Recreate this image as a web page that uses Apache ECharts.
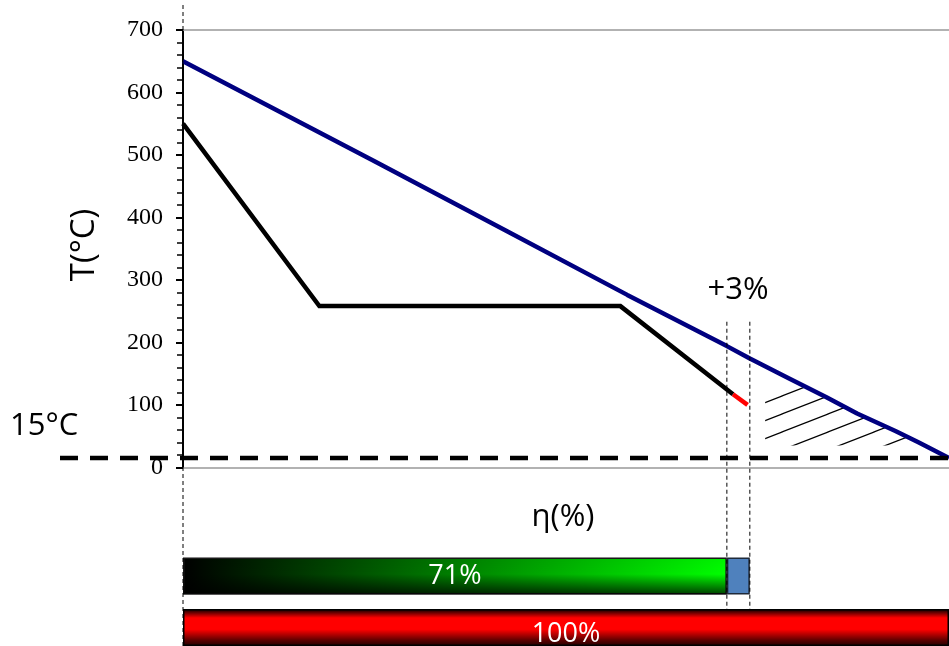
<!DOCTYPE html>
<html>
<head>
<meta charset="utf-8">
<script src="https://cdn.jsdelivr.net/npm/echarts@6/dist/echarts.min.js"></script>
<style>
  html, body { margin: 0; padding: 0; background: #fff; }
  #chart { width: 949px; height: 646px; }
</style>
</head>
<body>
<div id="chart"></div>
<script>
// Temperature (°C) against efficiency η (%)
const gasLine   = [[0, 650], [25, 490], [42, 380], [58, 276], [71, 194], [74, 174], [79, 143],
                   [84, 112], [88, 86], [93, 58], [96, 40], [100, 15]];
const fluidLine = [[0, 550], [17.8, 258], [57.1, 258], [71.8, 117]];
const extraLine = [[71.8, 117], [73.7, 100]];
const hatchEdge = [[76, 120], [80, 137], [84, 112], [88, 86], [93, 58], [97.5, 35]];
const hatchFloor = 35;
const ambientT = 15;
const markerTop = 233;

// y axis scale
const yMin = 0, yMax = 700, yStep = 100;

// efficiency bars
const baseShare = 71;
const gainShare = 3;
const totalShare = 100;

const SANS = '"Open Sans", "Liberation Sans", sans-serif';
const SERIF = '"Liberation Serif", "DejaVu Serif", serif';

// diagonal hatch tile
function hatchPattern() {
  const c = document.createElement('canvas');
  c.width = 46; c.height = 18;
  const g = c.getContext('2d');
  g.strokeStyle = '#000';
  g.lineWidth = 1.2;
  [-18, 0, 18].forEach(function (d) {
    g.beginPath();
    g.moveTo(-46, 36 + d);
    g.lineTo(92, -18 + d);
    g.stroke();
  });
  return c;
}

const chart = echarts.init(document.getElementById('chart'), null, { renderer: 'canvas' });

const option = {
  animation: false,
  backgroundColor: '#fff',
  grid: [
    { left: 183, right: 0, top: 30, height: 437.3 },
    { left: 183, right: 0, top: 557.5, height: 37 },
    { left: 183, right: 0, top: 609, height: 48 }
  ],
  xAxis: [
    {
      gridIndex: 0, type: 'value', min: 0, max: 100,
      axisLine: { show: true, onZero: false, lineStyle: { color: '#999', width: 1.5 } },
      axisTick: { show: false }, axisLabel: { show: false }, splitLine: { show: false }
    },
    { gridIndex: 1, type: 'value', min: 0, max: 100, show: false },
    { gridIndex: 2, type: 'value', min: 0, max: 100, show: false }
  ],
  yAxis: [
    {
      gridIndex: 0, type: 'value', min: yMin, max: yMax, interval: yStep,
      axisLine: { show: true, lineStyle: { color: '#000', width: 2 } },
      axisTick: { show: true, length: 7, lineStyle: { color: '#000', width: 2 } },
      minorTick: { show: true, splitNumber: 5, length: 6, lineStyle: { color: '#000', width: 1.5 } },
      axisLabel: { margin: 20, color: '#000', fontFamily: SERIF, fontSize: 24 },
      splitLine: { show: false }
    },
    { gridIndex: 1, type: 'category', data: ['η'], show: false },
    { gridIndex: 2, type: 'category', data: ['total'], show: false }
  ],
  series: [
    {
      name: 'hatch', type: 'line', xAxisIndex: 0, yAxisIndex: 0,
      data: hatchEdge, symbol: 'none', silent: true,
      lineStyle: { width: 0, opacity: 0 },
      areaStyle: { origin: hatchFloor, color: { image: hatchPattern(), repeat: 'repeat' }, opacity: 1 },
      z: 1
    },
    {
      name: 'gas', type: 'line', xAxisIndex: 0, yAxisIndex: 0,
      data: gasLine, symbol: 'none',
      lineStyle: { color: '#000080', width: 4.5 },
      markLine: {
        silent: true, symbol: 'none', label: { show: false },
        lineStyle: { color: '#999', width: 1.5, type: 'solid' },
        data: [{ yAxis: yMax }]
      },
      z: 3
    },
    {
      name: 'fluid', type: 'line', xAxisIndex: 0, yAxisIndex: 0,
      data: fluidLine, symbol: 'none',
      lineStyle: { color: '#000', width: 4.5, join: 'miter' }, z: 3
    },
    {
      name: 'extra', type: 'line', xAxisIndex: 0, yAxisIndex: 0,
      data: extraLine, symbol: 'none',
      lineStyle: { color: '#ff0000', width: 4.5 }, z: 3
    },
    {
      name: 'base', type: 'bar', xAxisIndex: 1, yAxisIndex: 1, stack: 'eta',
      data: [baseShare], barWidth: '100%',
      itemStyle: {
        color: new echarts.graphic.LinearGradient(0, 0, 1, 0, [
          { offset: 0, color: '#000000' },
          { offset: 1, color: '#00ff00' }
        ]),
        borderColor: '#1a1a1a', borderWidth: 1.5
      }
    },
    {
      name: 'gain', type: 'bar', xAxisIndex: 1, yAxisIndex: 1, stack: 'eta',
      data: [gainShare], barWidth: '100%',
      itemStyle: { color: '#4f81bd', borderColor: '#1f2a3a', borderWidth: 1.5 }
    },
    {
      name: 'baseShade', type: 'bar', xAxisIndex: 1, yAxisIndex: 1,
      data: [baseShare], barWidth: '100%', barGap: '-100%',
      itemStyle: {
        color: new echarts.graphic.LinearGradient(0, 0, 0, 1, [
          { offset: 0, color: 'rgba(0,0,0,0.05)' },
          { offset: 0.45, color: 'rgba(0,0,0,0)' },
          { offset: 1, color: 'rgba(0,0,0,0.75)' }
        ])
      },
      label: {
        show: true, position: 'inside', formatter: '{c}%',
        color: '#fff', fontFamily: SANS, fontSize: 27
      }
    },
    {
      name: 'total', type: 'bar', xAxisIndex: 2, yAxisIndex: 2,
      data: [totalShare], barWidth: '100%',
      itemStyle: {
        color: new echarts.graphic.LinearGradient(0, 0, 0, 1, [
          { offset: 0, color: '#000000' },
          { offset: 0.24, color: '#ff0000' },
          { offset: 0.55, color: '#ff0000' },
          { offset: 0.85, color: '#5a0000' },
          { offset: 1, color: '#200000' }
        ]),
        borderColor: '#000', borderWidth: 1.5
      },
      label: {
        show: true, position: 'inside', formatter: '{c}%',
        color: '#fff', fontFamily: SANS, fontSize: 27,
        offset: [0, 7]
      }
    }
  ]
};

chart.setOption(option);

// Guide lines and free text positioned from the axis scales
const origin = chart.convertToPixel({ gridIndex: 0 }, [0, 0]);
const ambientY = chart.convertToPixel({ gridIndex: 0 }, [0, ambientT])[1];
const baseX = chart.convertToPixel({ gridIndex: 0 }, [baseShare, markerTop]);
const gainX = chart.convertToPixel({ gridIndex: 0 }, [baseShare + gainShare, markerTop]);
const totalTop = 609;
const W = 949, H = 646;

const dashThin = { stroke: '#000', lineWidth: 1, lineDash: [4, 3] };

chart.setOption({
  graphic: [
    { type: 'line', z: 50, shape: { x1: origin[0], y1: 5, x2: origin[0], y2: H }, style: dashThin },
    { type: 'line', z: 50, shape: { x1: baseX[0], y1: baseX[1], x2: baseX[0], y2: totalTop }, style: dashThin },
    { type: 'line', z: 50, shape: { x1: gainX[0], y1: gainX[1], x2: gainX[0], y2: totalTop }, style: dashThin },
    { type: 'line', z: 40, shape: { x1: 60, y1: ambientY, x2: W, y2: ambientY },
      style: { stroke: '#000', lineWidth: 4.5, lineDash: [18, 12] } },
    { type: 'text', z: 50, x: 10, y: 426,
      style: { text: ambientT + '°C', fill: '#000', font: '31px ' + SANS,
               textAlign: 'left', textVerticalAlign: 'middle', align: 'left', verticalAlign: 'middle' } },
    { type: 'text', z: 50, x: 85, y: 245, rotation: Math.PI / 2,
      style: { text: 'T(°C)', fill: '#000', font: '33px ' + SANS,
               textAlign: 'center', textVerticalAlign: 'middle', align: 'center', verticalAlign: 'middle' } },
    { type: 'text', z: 50, x: 563, y: 517,
      style: { text: 'η(%)', fill: '#000', font: '31px ' + SANS,
               textAlign: 'center', textVerticalAlign: 'middle', align: 'center', verticalAlign: 'middle' } },
    { type: 'text', z: 50, x: 738, y: 290,
      style: { text: '+' + gainShare + '%', fill: '#000', font: '31px ' + SANS,
               textAlign: 'center', textVerticalAlign: 'middle', align: 'center', verticalAlign: 'middle' } }
  ]
});
</script>
</body>
</html>
